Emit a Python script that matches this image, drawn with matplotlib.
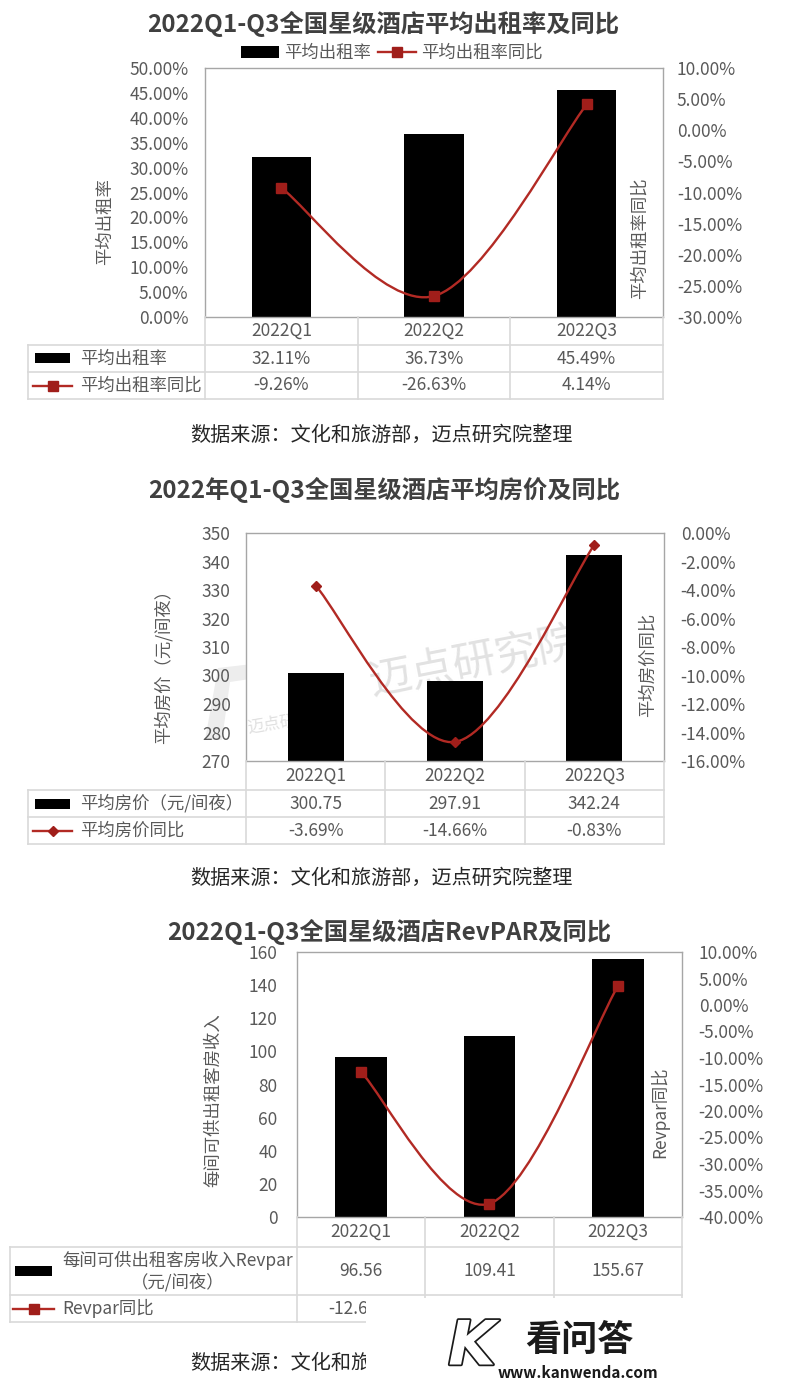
import matplotlib
matplotlib.use('Agg')
import matplotlib.pyplot as plt
from matplotlib.path import Path
from matplotlib.patches import PathPatch, Rectangle, Polygon
from matplotlib.lines import Line2D
from matplotlib.ticker import FuncFormatter, MultipleLocator
import matplotlib.transforms as mtransforms
import matplotlib.patheffects as pe

plt.rcParams['font.family'] = ['Noto Sans CJK SC', 'DejaVu Sans']

# ---------------- data ----------------
quarters = ['2022Q1', '2022Q2', '2022Q3']

occ_rate = [32.11, 36.73, 45.49]        # 平均出租率 (%)
occ_yoy = [-9.26, -26.63, 4.14]         # 平均出租率同比 (%)

adr = [300.75, 297.91, 342.24]          # 平均房价 (元/间夜)
adr_yoy = [-3.69, -14.66, -0.83]        # 平均房价同比 (%)

revpar = [96.56, 109.41, 155.67]        # RevPAR (元/间夜)
revpar_yoy = [-12.64, -37.47, 3.56]     # RevPAR同比 (%)

W, H = 800, 1382
fig = plt.figure(figsize=(W / 100, H / 100), dpi=100)
fig.patch.set_facecolor('white')

RED = '#B22A24'
MRED = '#A01E1A'
TXT = '#595959'
GRID = '#D9D9D9'
FRAME = '#A6A6A6'
TITLE = '#404040'
FS = 12.5
TFS = 17.5


def fx(x):
    return x / W


def fy(y):
    return 1 - y / H


def add_ax(l, t, r, b):
    return fig.add_axes([l / W, 1 - b / H, (r - l) / W, (b - t) / H])


def pct(v, p=None):
    if abs(v) < 1e-9:
        v = 0.0
    return f'{v:.2f}%'


def smooth_path(xs, ys):
    pts = list(zip(xs, ys))
    n = len(pts)
    verts = [pts[0]]
    codes = [Path.MOVETO]
    for i in range(n - 1):
        p0 = pts[i - 1] if i > 0 else pts[i]
        p1 = pts[i]
        p2 = pts[i + 1]
        p3 = pts[i + 2] if i + 2 < n else pts[i + 1]
        c1 = (p1[0] + (p2[0] - p0[0]) / 6, p1[1] + (p2[1] - p0[1]) / 6)
        c2 = (p2[0] - (p3[0] - p1[0]) / 6, p2[1] - (p3[1] - p1[1]) / 6)
        verts += [c1, c2, p2]
        codes += [Path.CURVE4] * 3
    return Path(verts, codes)


def panel(box, bars, yoy, bar_w, lim_l, step_l, fmt_l, lim_r, step_r,
          pad_l, pad_r, marker, msize):
    l, t, r, b = box
    ax = add_ax(l, t, r, b)
    x = list(range(len(quarters)))
    ax.bar(x, bars, width=bar_w, color='black', zorder=2)
    ax.set_xlim(-0.5, 2.5)
    ax.set_ylim(*lim_l)
    ax.yaxis.set_major_locator(MultipleLocator(step_l))
    ax.yaxis.set_major_formatter(FuncFormatter(fmt_l))
    ax.set_xticks([])
    ax.tick_params(axis='y', length=0, pad=pad_l, labelsize=FS, labelcolor=TXT)
    for s in ax.spines.values():
        s.set_color(FRAME)
        s.set_linewidth(1.0)
    ax2 = ax.twinx()
    ax2.set_ylim(*lim_r)
    ax2.yaxis.set_major_locator(MultipleLocator(step_r))
    ax2.yaxis.set_major_formatter(FuncFormatter(pct))
    ax2.tick_params(axis='y', length=0, pad=pad_r, labelsize=FS, labelcolor=TXT)
    for s in ax2.spines.values():
        s.set_visible(False)
    ax2.add_patch(PathPatch(smooth_path(x, yoy), facecolor='none',
                            edgecolor=RED, lw=1.7, zorder=3))
    ax2.plot(x, yoy, linestyle='none', marker=marker, markersize=msize,
             color=MRED, zorder=4)
    return ax, ax2


def table(ax, tbl_left, y_top, y_hdr, y_r1, y_r2, labels, vals1, vals2,
          glyph_x0, glyph_x1, text_x, marker, msize):
    tr = mtransforms.blended_transform_factory(ax.transData, fig.transFigure)
    right = ax.get_position().x1
    for xb in [-0.5, 0.5, 1.5, 2.5]:
        fig.add_artist(Line2D([xb, xb], [fy(y_top), fy(y_r2)], transform=tr,
                              color=GRID, lw=1.2))
    for yy in [y_hdr, y_r1, y_r2]:
        fig.add_artist(Line2D([fx(tbl_left), right], [fy(yy), fy(yy)],
                              color=GRID, lw=1.2))
    fig.add_artist(Line2D([fx(tbl_left), fx(tbl_left)], [fy(y_hdr), fy(y_r2)],
                          color=GRID, lw=1.2))
    c0 = (y_top + y_hdr) / 2
    c1 = (y_hdr + y_r1) / 2
    c2 = (y_r1 + y_r2) / 2
    for i, q in enumerate(quarters):
        fig.text(i, fy(c0), q, transform=tr, ha='center', va='center',
                 fontsize=FS, color=TXT)
        fig.text(i, fy(c1), vals1[i], transform=tr, ha='center', va='center',
                 fontsize=FS, color=TXT)
        fig.text(i, fy(c2), vals2[i], transform=tr, ha='center', va='center',
                 fontsize=FS, color=TXT)
    # legend glyphs
    fig.add_artist(Rectangle((fx(glyph_x0), fy(c1 + 5)), fx(glyph_x1 - glyph_x0),
                             10 / H, transform=fig.transFigure,
                             facecolor='black', edgecolor='none'))
    fig.add_artist(Line2D([fx(glyph_x0 - 2), fx(glyph_x1 + 2)], [fy(c2), fy(c2)],
                          color=RED, lw=1.7))
    fig.add_artist(Line2D([fx((glyph_x0 + glyph_x1) / 2)], [fy(c2)],
                          marker=marker, markersize=msize, color=MRED,
                          linestyle='none'))
    fig.text(fx(text_x), fy(c1), labels[0], ha='left', va='center',
             fontsize=FS, color=TXT, multialignment='center')
    fig.text(fx(text_x), fy(c2), labels[1], ha='left', va='center',
             fontsize=FS, color=TXT)


SOURCE = '数据来源：文化和旅游部，迈点研究院整理'

# ================= Panel 1 =================
fig.text(fx(383), fy(24), '2022Q1-Q3全国星级酒店平均出租率及同比', ha='center',
         va='center', fontsize=TFS, fontweight='bold', color=TITLE)
ax1, ax1b = panel((205, 68, 663, 317), occ_rate, occ_yoy, 0.39, (0, 50), 5, pct,
                  (-30, 10), 5, 12, 10, 's', 7)
handles = [Rectangle((0, 0), 1, 1, facecolor='black'),
           Line2D([], [], color=RED, lw=1.7, marker='s', markersize=7,
                  markerfacecolor=MRED, markeredgecolor=MRED)]
fig.legend(handles, ['平均出租率', '平均出租率同比'], loc='center',
           bbox_to_anchor=(fx(392), fy(53)), ncol=2, frameon=False,
           fontsize=FS, labelcolor=TXT, handlelength=2.2, handleheight=0.7,
           handletextpad=0.3, columnspacing=0.4)
fig.text(fx(105), fy(222), '平均出租率', rotation=90, ha='center', va='center',
         fontsize=FS, color=TXT)
fig.text(fx(640), fy(238), '平均出租率同比', rotation=90, ha='center',
         va='center', fontsize=FS, color=TXT)
table(ax1, 28, 317, 345, 372, 399, ['平均出租率', '平均出租率同比'],
      [pct(v) for v in occ_rate], [pct(v) for v in occ_yoy],
      35, 70, 80, 's', 7)
fig.text(fx(381), fy(435), SOURCE, ha='center', va='center', fontsize=14.5,
         color='#262626')

# ================= Panel 2 =================
fig.text(fx(384), fy(490), '2022年Q1-Q3全国星级酒店平均房价及同比',
         ha='center', va='center', fontsize=TFS, fontweight='bold', color=TITLE)
ax2, ax2b = panel((246, 533, 664, 761), adr, adr_yoy, 0.40, (270, 350), 10,
                  lambda v, p: f'{v:.0f}', (-16, 0), 2, 11, 12, 'D', 5.5)
# faint watermark
ax2.text(0.285, 0.43, '迈点研究院', transform=ax2.transAxes, fontsize=31,
         color='#E2E2E2', rotation=11, ha='left', va='center', zorder=1)
ax2.text(0.0, 0.16, '迈点研', transform=ax2.transAxes, fontsize=12,
         color='#E0E0E0', rotation=9, ha='left', va='center', zorder=1)
fig.add_artist(Polygon([(fx(205), fy(740)), (fx(218), fy(668)),
                        (fx(330), fy(655)), (fx(322), fy(668)),
                        (fx(230), fy(682)), (fx(222), fy(740))],
                       closed=True, transform=fig.transFigure,
                       facecolor='#EDEDED', edgecolor='none', zorder=0))
fig.text(fx(163), fy(662), '平均房价（元/间夜）', rotation=90, ha='center',
         va='center', fontsize=FS, color=TXT)
fig.text(fx(648), fy(665), '平均房价同比', rotation=90, ha='center',
         va='center', fontsize=FS, color=TXT)
table(ax2, 28, 761, 790, 817, 844, ['平均房价（元/间夜）', '平均房价同比'],
      [f'{v:.2f}' for v in adr], [pct(v) for v in adr_yoy],
      35, 70, 80, 'D', 5.5)
fig.text(fx(381), fy(878), SOURCE, ha='center', va='center', fontsize=14.5,
         color='#262626')

# ================= Panel 3 =================
fig.text(fx(389), fy(932), '2022Q1-Q3全国星级酒店RevPAR及同比',
         ha='center', va='center', fontsize=TFS, fontweight='bold', color=TITLE)
ax3, ax3b = panel((297, 952, 682, 1217), revpar, revpar_yoy, 0.40, (0, 160), 20,
                  lambda v, p: f'{v:.0f}', (-40, 10), 5, 14, 12, 's', 7)
fig.text(fx(213), fy(1100), '每间可供出租客房收入', rotation=90, ha='center',
         va='center', fontsize=FS, color=TXT)
fig.text(fx(660), fy(1112), 'Revpar同比', rotation=90, ha='center',
         va='center', fontsize=FS, color=TXT)
table(ax3, 10, 1217, 1247, 1295, 1322,
      ['每间可供出租客房收入Revpar\n（元/间夜）', 'Revpar同比'],
      [f'{v:.2f}' for v in revpar], [pct(v) for v in revpar_yoy],
      15, 52, 62, 's', 7)
src3 = fig.text(fx(381), fy(1363), SOURCE, ha='center', va='center',
                fontsize=14.5, color='#262626')
clip = mtransforms.TransformedBbox(mtransforms.Bbox([[0, 0], [fx(366), 1]]),
                                   fig.transFigure)
src3.set_clip_box(clip)
src3.set_clip_on(True)

# overlay watermark box (kanwenda)
fig.add_artist(Rectangle((fx(366), 0), 1 - fx(366), (H - 1298) / H,
                         transform=fig.transFigure, facecolor='white',
                         edgecolor='none', zorder=10))
fig.text(fx(472), fy(1348), 'K', ha='center', va='center', fontsize=44,
         fontweight='bold', color='white', fontstyle='italic', zorder=11,
         path_effects=[pe.withStroke(linewidth=2.5, foreground='#1A1A1A')],
         family=['DejaVu Sans'])
fig.text(fx(579), fy(1340), '看问答', ha='center', va='center', fontsize=26,
         fontweight='bold', color='#1A1A1A', zorder=11)
fig.text(fx(578), fy(1373), 'www.kanwenda.com', ha='center', va='center',
         fontsize=11, fontweight='bold', color='#1A1A1A', zorder=11)

fig.savefig('out.png', dpi=100, facecolor='white')
